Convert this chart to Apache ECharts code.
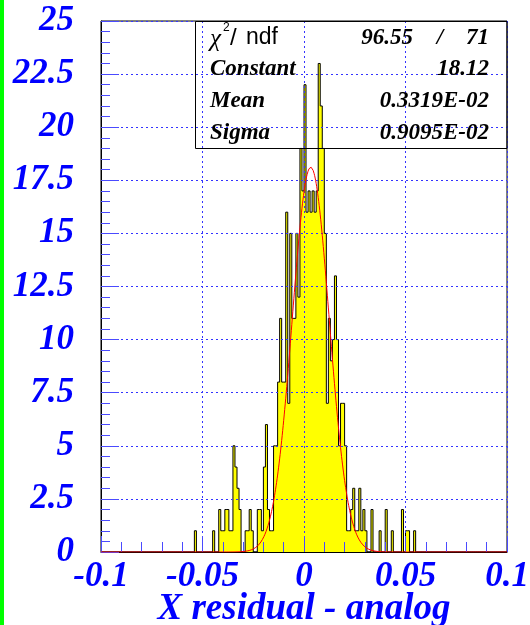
<!DOCTYPE html>
<html><head><meta charset="utf-8">
<script src="https://cdn.jsdelivr.net/npm/echarts@6/dist/echarts.min.js"></script>
<style>html,body{margin:0;padding:0;background:#fff;overflow:hidden;}#c{width:530px;height:625px;}</style>
</head><body><div id="c"></div>
<script>
// Histogram: 200 bins of width 0.001 over [-0.1, 0.1]; counts listed from bin index firstBin
const binLow = -0.1;
const binHigh = 0.1;
const binWidth = 0.001;
const firstBin = 46;
const counts = [
  1, 0, 0, 0, 0, 0, 0, 0, 0, 1,      // bins 46-55
  0, 0, 2, 1, 1, 2, 2, 1, 1, 5,      // bins 56-65
  4, 3, 2, 0, 0, 1, 1, 2, 1, 0,      // bins 66-75
  0, 2, 2, 1, 4, 6, 2, 1, 1, 5,      // bins 76-85
  5, 8, 11, 8, 8, 16, 7, 15, 11, 11, // bins 86-95
  15, 12, 19, 17, 22, 16, 17, 16, 17, 16, // bins 96-105
  17, 23, 21, 19, 15, 7, 11, 9, 10, 13,   // bins 106-115
  10, 5, 7, 7, 5, 1, 1, 2, 3, 1,     // bins 116-125
  1, 3, 1, 2, 1, 0, 0, 2, 0, 0,      // bins 126-135
  0, 1, 0, 0, 2, 0, 0, 1, 0, 0,      // bins 136-145
  0, 0, 2, 0, 1, 1, 0, 0, 1          // bins 146-154
];
// Fit parameters as printed in the statistics box
const fitConstant = 18.12;
const fitMean = 0.3319E-02;
const fitSigma = 0.9095E-02;
const statNames = ['Constant', 'Mean', 'Sigma'];
const statValues = ['18.12', '0.3319E-02', '0.9095E-02'];
const chi2Value = '96.55';
const ndfValue = '71';
const xTitle = 'X residual - analog';

// Step outline of the histogram (bin edges from the bin index)
const histPts = [[binLow, 0]];
counts.forEach((c, i) => histPts.push([binLow + (firstBin + i) * binWidth, c]));
histPts.push([binLow + (firstBin + counts.length) * binWidth, 0]);
histPts.push([binHigh, 0]);

// Gaussian fit function evaluated from the printed parameters
const fitPts = [];
for (let k = 0; k <= 800; k++) {
  const x = binLow + k * (binHigh - binLow) / 800;
  const z = (x - fitMean) / fitSigma;
  fitPts.push([x, fitConstant * Math.exp(-0.5 * z * z)]);
}

const SERIF = 'Liberation Serif';
const BLUE = '#0000ff';
const TICK = '#4a4aff';
const GRIDC = '#3333ff';
const lab = {color: BLUE, fontFamily: SERIF, fontWeight: 'bold', fontStyle: 'italic', fontSize: 35};

const chart = echarts.init(document.getElementById('c'), null, {renderer: 'canvas'});
const statTxt = (x, y, text, align, extra) => ({
  type: 'text', x: x, y: y, silent: true, z: 20,
  style: Object.assign({text: text, fill: '#000', align: align, verticalAlign: 'middle',
    fontFamily: SERIF, fontWeight: 'bold', fontStyle: 'italic', fontSize: 23}, extra || {})
});
const rowY = [69, 101, 133];
const graphics = [
  {type: 'rect', shape: {x: 0, y: 0, width: 4, height: 625}, style: {fill: '#00ff00'}, silent: true, z: 20},
  {type: 'rect', shape: {x: 195.5, y: 21.5, width: 311.5, height: 127}, style: {fill: 'none', stroke: '#000', lineWidth: 1}, silent: true, z: 20},
  statTxt(210, 39, 'χ', 'left', {fontFamily: SERIF, fontWeight: 'normal', fontStyle: 'italic', fontSize: 25}),
  statTxt(223, 28, '2', 'left', {fontFamily: 'Liberation Sans', fontWeight: 'normal', fontStyle: 'normal', fontSize: 12}),
  statTxt(230, 38, '/', 'left', {fontFamily: 'Liberation Sans', fontWeight: 'normal', fontStyle: 'normal', fontSize: 24}),
  statTxt(246, 38, 'ndf', 'left', {fontFamily: 'Liberation Sans', fontWeight: 'normal', fontStyle: 'normal', fontSize: 23}),
  statTxt(413, 38, chi2Value, 'right'),
  statTxt(440, 38, '/', 'center'),
  statTxt(489, 38, ndfValue, 'right')
];
statNames.forEach((n, i) => {
  graphics.push(statTxt(210, rowY[i], n, 'left'));
  graphics.push(statTxt(489, rowY[i], statValues[i], 'right'));
});

chart.setOption({
  animation: false,
  backgroundColor: '#fff',
  grid: {left: 101, right: 23, top: 21, bottom: 73, show: true, borderColor: '#000', borderWidth: 1,
         backgroundColor: 'transparent', containLabel: false, outerBoundsMode: 'none'},
  xAxis: {
    type: 'value', min: binLow, max: binHigh, interval: 0.05, z: 5,
    axisLine: {show: true, onZero: false, lineStyle: {color: '#000', width: 1}},
    axisTick: {show: true, inside: true, length: 16, lineStyle: {color: TICK, width: 1}},
    minorTick: {show: true, splitNumber: 5, length: 10, lineStyle: {color: TICK, width: 1}},
    splitLine: {show: true, lineStyle: {color: GRIDC, width: 1, type: [2, 3]}},
    axisLabel: Object.assign({margin: 7, showMinLabel: true, showMaxLabel: true, hideOverlap: false}, lab),
    name: xTitle, nameLocation: 'middle', nameGap: 39, nameMoveOverlap: false,
    nameTextStyle: Object.assign({}, lab, {fontSize: 37})
  },
  yAxis: {
    type: 'value', min: 0, max: 25, interval: 2.5, z: 5,
    axisLine: {show: true, onZero: false, lineStyle: {color: '#000', width: 1}},
    axisTick: {show: true, inside: true, length: 18, lineStyle: {color: TICK, width: 1}},
    minorTick: {show: true, splitNumber: 5, length: 9, lineStyle: {color: TICK, width: 1}},
    splitLine: {show: true, lineStyle: {color: GRIDC, width: 1, type: [2, 3]}},
    axisLabel: Object.assign({margin: 27, showMinLabel: true, showMaxLabel: true}, lab)
  },
  series: [
    {type: 'line', data: histPts, step: 'end', symbol: 'none', showSymbol: false, silent: true, z: 2,
     lineStyle: {color: '#000', width: 1}, areaStyle: {color: '#ffff00', opacity: 1}},
    {type: 'line', data: fitPts, symbol: 'none', showSymbol: false, silent: true, z: 6,
     lineStyle: {color: '#ff0000', width: 1}}
  ],
  graphic: graphics
});
</script></body></html>
